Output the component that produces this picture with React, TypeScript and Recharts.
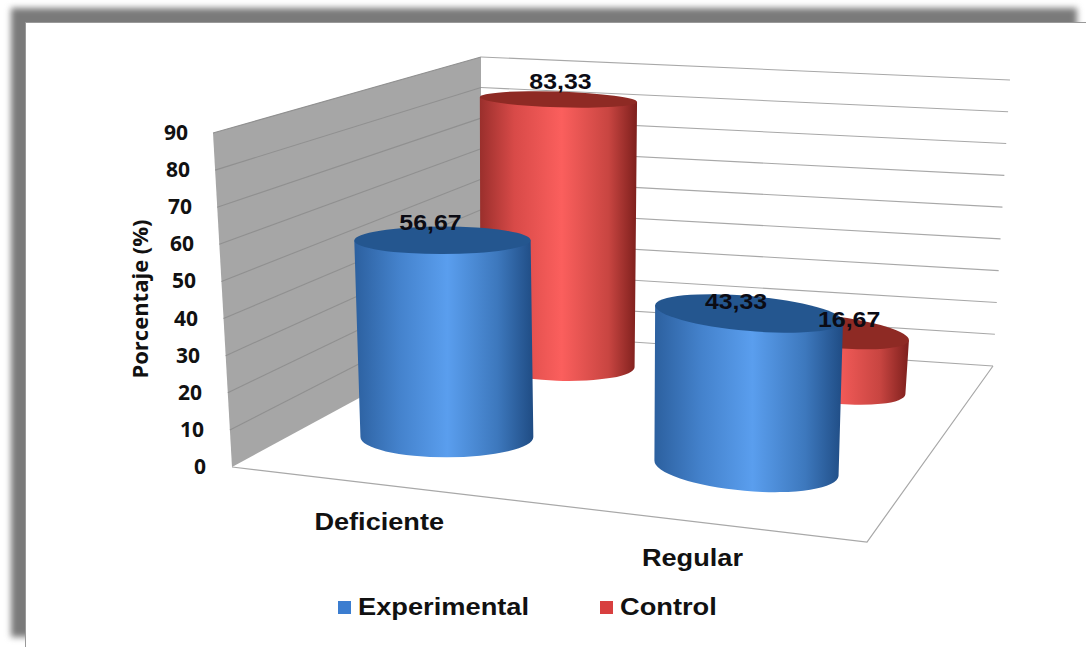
import { BarChart, Bar, XAxis, YAxis, Legend, Customized } from 'recharts';

const CATEGORIES = ['Deficiente', 'Regular'];
const EXPERIMENTAL = [56.67, 43.33];
const CONTROL = [83.33, 16.67];
const Y_TICKS = [0, 10, 20, 30, 40, 50, 60, 70, 80, 90];

const rows = CATEGORIES.map((name, i) => ({
  name,
  experimental: EXPERIMENTAL[i],
  control: CONTROL[i],
}));

type Pt = [number, number];
type SeriesKey = 'experimental' | 'control';

const PLOT_LEFT = 232;
const PLOT_W = 635;
const PLOT_TOP = 133;
const PLOT_H = 334;

// corners of the 3d box: floor and ceiling, front-left / front-right / back-right / back-left
const FLOOR: Pt[] = [[232, 467], [867, 542], [993, 366], [481, 332]];
const CEIL: Pt[] = [[213, 133], [877, 187], [1010, 80], [481, 57]];

const DEPTH: Record<SeriesKey, number> = { experimental: 0.325, control: 0.825 };
const LABEL_NUDGE: Record<SeriesKey, Pt[]> = {
  experimental: [[-12, -18], [-13, -12]],
  control: [[2, -18], [21, -12]],
};
const X_LABEL_NUDGE: Pt[] = [[4.5, 46], [-2, 44]];
const LEGEND_COLORS: Record<SeriesKey, string> = { experimental: '#3b7dd0', control: '#d83f3f' };

const lerp = (a: Pt, b: Pt, t: number): Pt => [a[0] + (b[0] - a[0]) * t, a[1] + (b[1] - a[1]) * t];
const quad = (q: Pt[], u: number, w: number): Pt => lerp(lerp(q[0], q[1], u), lerp(q[3], q[2], u), w);

const toU = (px: number) => -0.027 + (1.007 * (px - PLOT_LEFT)) / PLOT_W;

function geometry(p: any, series: SeriesKey) {
  const u = toU(p.x + p.width / 2);
  const w = DEPTH[series];
  const base = quad(FLOOR, u, w);
  const ceil = quad(CEIL, u, w);
  const top = lerp(base, ceil, ((0.97 + 0.03 * w) * p.height) / PLOT_H);
  // cylinders nearer the front right corner look a bit fatter
  const rx = (24.2 * (1 + 0.12 * u * (1 - w)) * Math.hypot(ceil[0] - base[0], ceil[1] - base[1])) / 90;
  return { base, top, rx };
}

const ryAt = (y: number, rx: number) => rx * (0.1 + (y - 100) * 0.0004);
const tiltAt = (x: number) => ((x - 450) / 300) * 5;

function Cylinder(p: any) {
  const { series } = p as { series: SeriesKey };
  const { base, top, rx } = geometry(p, series);
  const rt = rx * 1.01;
  const rb = rx * 0.99;
  const ryT = ryAt(top[1], rt);
  const ryB = ryAt(base[1], rb);
  const tiltT = tiltAt(top[0]);
  const tiltB = tiltAt(base[0]);
  const edge = (c: Pt, r: number, deg: number, s: number): string => {
    const a = (deg * Math.PI) / 180;
    return `${c[0] + s * r * Math.cos(a)} ${c[1] + s * r * Math.sin(a)}`;
  };
  const body =
    `M${edge(top, rt, tiltT, -1)} L${edge(base, rb, tiltB, -1)} ` +
    `A${rb} ${ryB} ${tiltB} 0 0 ${edge(base, rb, tiltB, 1)} L${edge(top, rt, tiltT, 1)} Z`;
  return (
    <g>
      <path d={body} fill={`url(#body-${series})`} />
      <ellipse
        cx={top[0]}
        cy={top[1]}
        rx={rt}
        ry={ryT}
        fill={series === 'experimental' ? '#24568f' : '#8e2a24'}
        transform={`rotate(${tiltT} ${top[0]} ${top[1]})`}
      />
    </g>
  );
}

function ValueLabel(p: any) {
  const { series } = p as { series: SeriesKey };
  const { top } = geometry(p, series);
  const nudge = LABEL_NUDGE[series][p.index];
  const value: number = p.payload[series];
  return (
    <text
      transform={`translate(${top[0] + nudge[0]} ${top[1] + nudge[1] + 8}) scale(1.13 1)`}
      textAnchor="middle"
      fontFamily="Liberation Sans"
      fontWeight={700}
      fontSize={22}
      fill="#0b0b14"
    >
      {value.toFixed(2).replace('.', ',')}
    </text>
  );
}

function Walls() {
  const [a, , c, d] = FLOOR;
  const [a2, , c2, d2] = CEIL;
  return (
    <g>
      <polygon points={[a, a2, d2, d].join(' ')} fill="#a6a6a6" />
      {Y_TICKS.map((v) => {
        const t = v / 90;
        const left = lerp(a, a2, t);
        const corner = lerp(d, d2, t);
        const right = lerp(c, c2, t);
        return (
          <g key={v} fill="none">
            {v > 0 && <line x1={left[0]} y1={left[1]} x2={corner[0]} y2={corner[1]} stroke="#909090" strokeWidth={1.1} />}
            <line x1={corner[0]} y1={corner[1]} x2={right[0]} y2={right[1]} stroke="#a8a8a8" strokeWidth={1.1} />
          </g>
        );
      })}
      <polyline
        points={[a, FLOOR[1], c].join(' ')}
        fill="none"
        stroke="#a8a8a8"
        strokeWidth={1.2}
      />
    </g>
  );
}

function YTick({ y, payload }: any) {
  const v: number = payload.value;
  return (
    <text
      x={206 - (v / 90) * 18}
      y={y + 7}
      textAnchor="end"
      fontFamily="Open Sans"
      fontWeight={700}
      fontSize={21}
      fill="#111"
    >
      {v}
    </text>
  );
}

function XTick({ x, payload, index }: any) {
  const [ex, ey] = lerp(FLOOR[0], FLOOR[1], toU(x));
  const nudge = X_LABEL_NUDGE[index];
  return (
    <text
      transform={`translate(${ex + nudge[0]} ${ey + nudge[1]}) scale(1.18 1)`}
      textAnchor="middle"
      fontFamily="Liberation Sans"
      fontWeight={700}
      fontSize={23}
      fill="#111"
    >
      {payload.value}
    </text>
  );
}

function ChartLegend() {
  const items: { key: SeriesKey; name: string; x: number }[] = [
    { key: 'experimental', name: 'Experimental', x: 8 },
    { key: 'control', name: 'Control', x: 270 },
  ];
  return (
    <svg width={420} height={40} style={{ display: 'block', overflow: 'visible' }}>
      {items.map((it) => (
        <g key={it.key}>
          <rect x={it.x} y={12} width={13} height={13} fill={LEGEND_COLORS[it.key]} />
          <text
            transform={`translate(${it.x + 20} 26) scale(1.185 1)`}
            fontFamily="Liberation Sans"
            fontWeight={700}
            fontSize={23}
            fill="#111"
          >
            {it.name}
          </text>
        </g>
      ))}
    </svg>
  );
}

export default function App() {
  return (
    <div style={{ position: 'absolute', left: 0, top: 0, width: 1086, height: 647, overflow: 'hidden', background: '#fff' }}>
      <div style={{ position: 'absolute', left: 11, top: 8, width: 1066, height: 629, background: '#7a7a7a', filter: 'blur(3px)' }} />
      <div
        style={{
          position: 'absolute',
          left: 25,
          top: 22,
          width: 1070,
          height: 640,
          background: '#fff',
          borderLeft: '1px solid #999',
          borderTop: '1px solid #999',
        }}
      />
      <div style={{ position: 'absolute', left: 0, top: 0 }}>
        <BarChart
          width={1086}
          height={647}
          data={rows}
          barSize={10}
          barGap={-10}
          margin={{ left: PLOT_LEFT - 60, right: 1086 - PLOT_LEFT - PLOT_W, top: PLOT_TOP, bottom: 150 }}
        >
          <defs>
            <linearGradient id="body-experimental" x1="0" y1="0" x2="1" y2="0">
              <stop offset="0%" stopColor="#2c609f" />
              <stop offset="25%" stopColor="#4482cc" />
              <stop offset="52%" stopColor="#5a9eee" />
              <stop offset="80%" stopColor="#3d78bd" />
              <stop offset="100%" stopColor="#1f4c84" />
            </linearGradient>
            <linearGradient id="body-control" x1="0" y1="0" x2="1" y2="0">
              <stop offset="0%" stopColor="#9a2f2c" />
              <stop offset="22%" stopColor="#d84a48" />
              <stop offset="52%" stopColor="#fb5f5d" />
              <stop offset="82%" stopColor="#c84541" />
              <stop offset="100%" stopColor="#7d1f1c" />
            </linearGradient>
          </defs>
          <Customized component={Walls} />
          <XAxis dataKey="name" height={30} axisLine={false} tickLine={false} tick={<XTick />} interval={0} />
          <YAxis
            width={60}
            domain={[0, 90]}
            ticks={Y_TICKS}
            interval={0}
            axisLine={false}
            tickLine={false}
            tick={<YTick />}
            label={{
              value: 'Porcentaje (%)',
              angle: -90,
              position: 'center',
              dx: -62,
              dy: -1,
              style: { fontFamily: 'Open Sans', fontWeight: 700, fontSize: 22, fill: '#111', textAnchor: 'middle' },
            }}
          />
          <Legend
            content={<ChartLegend />}
            wrapperStyle={{ position: 'absolute', left: 330, top: 589, width: 420, height: 0 }}
          />
          <Bar dataKey="control" legendType="none" isAnimationActive={false} shape={(p: any) => <Cylinder {...p} series="control" />} />
          <Bar dataKey="experimental" legendType="none" isAnimationActive={false} shape={(p: any) => <Cylinder {...p} series="experimental" />} />
          <Bar dataKey="control" legendType="none" isAnimationActive={false} shape={(p: any) => <ValueLabel {...p} series="control" />} />
          <Bar dataKey="experimental" legendType="none" isAnimationActive={false} shape={(p: any) => <ValueLabel {...p} series="experimental" />} />
        </BarChart>
      </div>
    </div>
  );
}
